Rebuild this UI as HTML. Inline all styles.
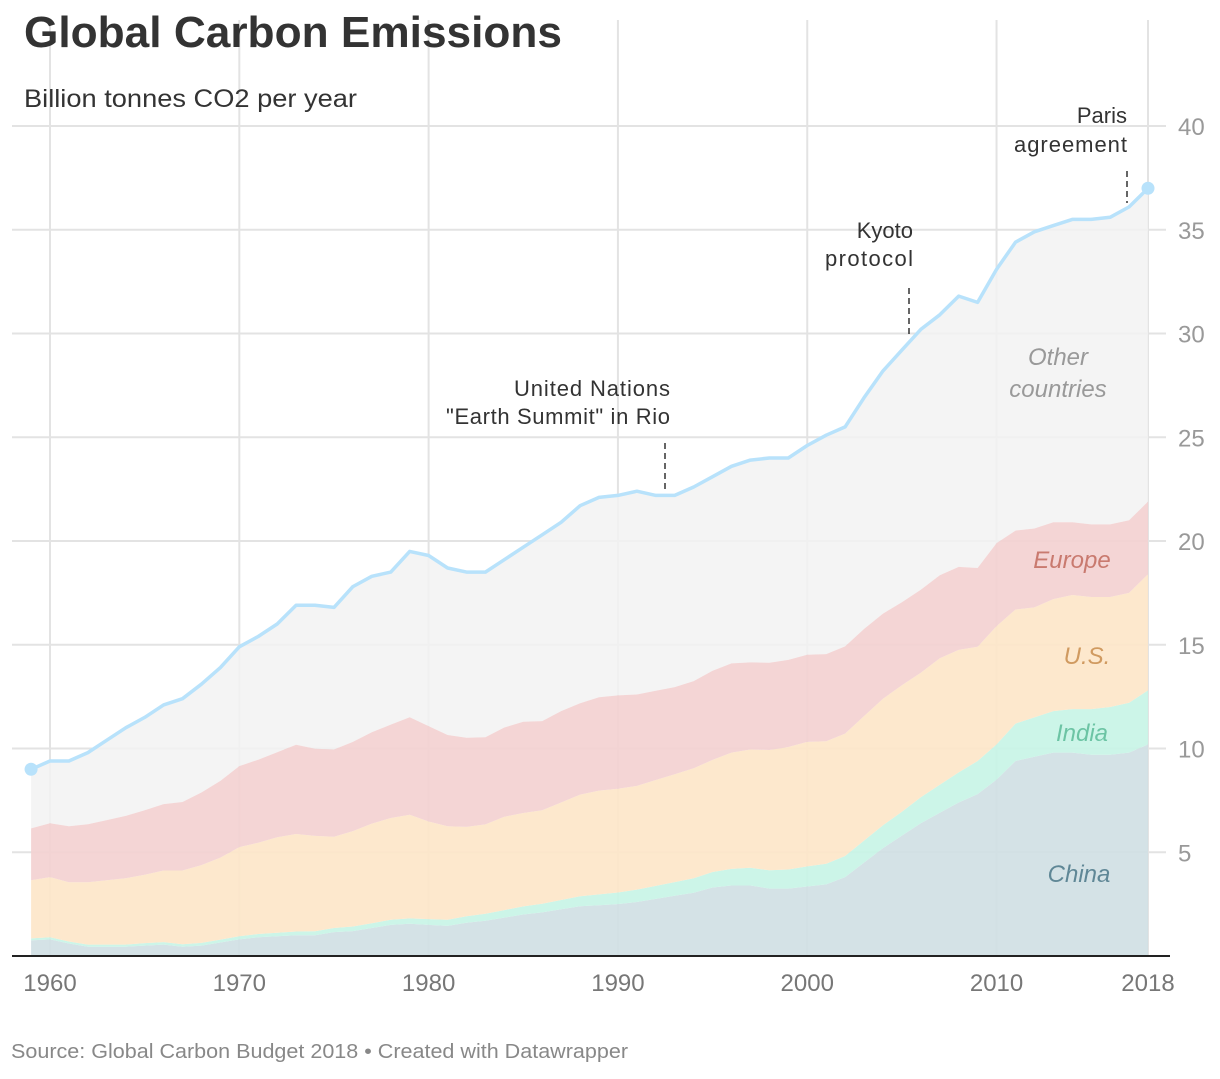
<!DOCTYPE html>
<html><head><meta charset="utf-8">
<style>
body{margin:0;background:#fff;width:1220px;height:1074px;overflow:hidden;font-family:"Liberation Sans",sans-serif;}
svg text{font-family:"Liberation Sans",sans-serif;}
</style></head>
<body>
<svg id="chart" width="1220" height="1074" viewBox="0 0 1220 1074">
  <g id="grid"></g>
  <g id="areas"></g>
  <g id="axes"></g>
  <text x="24" y="47" font-size="44" font-weight="bold" fill="#333" textLength="538" lengthAdjust="spacingAndGlyphs">Global Carbon Emissions</text>
  <text x="24" y="107" font-size="25" fill="#333" textLength="333" lengthAdjust="spacingAndGlyphs">Billion tonnes CO2 per year</text>
  <g id="labels">
    <text x="1058" y="365" font-size="24" font-style="italic" fill="#999" text-anchor="middle">Other</text>
    <text x="1058" y="397" font-size="24" font-style="italic" fill="#999" text-anchor="middle">countries</text>
    <text x="1072" y="568" font-size="24" font-style="italic" fill="#c97a6f" text-anchor="middle">Europe</text>
    <text x="1087" y="664" font-size="24" font-style="italic" fill="#d09a60" text-anchor="middle">U.S.</text>
    <text x="1082" y="741" font-size="24" font-style="italic" fill="#6cc4a4" text-anchor="middle">India</text>
    <text x="1079" y="882" font-size="24" font-style="italic" fill="#5f8796" text-anchor="middle">China</text>
  </g>
  <g id="annotations">
    <text font-size="22" fill="#333" text-anchor="end"><tspan x="670" y="396" textLength="156">United Nations</tspan><tspan x="670" y="424" textLength="224">"Earth Summit" in Rio</tspan></text>
    <line x1="665" y1="443" x2="665" y2="492" stroke="#333" stroke-width="1.5" stroke-dasharray="6,4"/>
    <text font-size="22" fill="#333" text-anchor="end"><tspan x="913" y="238">Kyoto</tspan><tspan x="913" y="266" textLength="88">protocol</tspan></text>
    <line x1="909" y1="288" x2="909" y2="338" stroke="#333" stroke-width="1.5" stroke-dasharray="6,4"/>
    <text font-size="22" fill="#333" text-anchor="end"><tspan x="1127" y="123">Paris</tspan><tspan x="1127" y="152" textLength="113">agreement</tspan></text>
    <line x1="1127" y1="171" x2="1127" y2="203" stroke="#333" stroke-width="1.5" stroke-dasharray="6,4"/>
  </g>
  <text x="11" y="1058" font-size="20" fill="#888" textLength="617" lengthAdjust="spacingAndGlyphs">Source: Global Carbon Budget 2018 • Created with Datawrapper</text>
</svg>
<script>
const startYear = 1959;
const china = [0.75, 0.8,0.6,0.45,0.45,0.45,0.5,0.55,0.45,0.5,0.65, 0.8,0.9,0.95,1.0,1.0,1.15,1.2,1.35,1.5,1.55, 1.5,1.45,1.6,1.7,1.85,2.0,2.1,2.25,2.4,2.45, 2.5,2.6,2.75,2.9,3.05,3.3,3.4,3.4,3.25,3.25, 3.35,3.45,3.8,4.5,5.2,5.8,6.4,6.9,7.4,7.8, 8.5,9.4,9.6,9.8,9.8,9.7,9.7,9.8,10.2];
const india = [0.1, 0.1,0.1,0.1,0.1,0.1,0.12,0.12,0.12,0.13,0.14, 0.15,0.16,0.17,0.18,0.19,0.2,0.22,0.23,0.25,0.26, 0.28,0.3,0.32,0.34,0.36,0.39,0.42,0.45,0.48,0.52, 0.56,0.6,0.63,0.66,0.7,0.75,0.8,0.85,0.88,0.92, 0.97,1.0,1.02,1.06,1.1,1.15,1.25,1.35,1.45,1.6, 1.7,1.8,1.9,2.0,2.1,2.2,2.3,2.4,2.6];
const us = [2.8, 2.9,2.85,3.0,3.1,3.2,3.3,3.45,3.55,3.75,3.95, 4.3,4.4,4.6,4.7,4.6,4.4,4.6,4.8,4.9,5.0, 4.7,4.5,4.3,4.3,4.5,4.5,4.5,4.7,4.9,5.0, 5.0,5.0,5.1,5.2,5.3,5.4,5.6,5.7,5.8,5.9, 6.0,5.9,5.9,6.0,6.1,6.1,6.0,6.1,5.9,5.5, 5.7,5.5,5.3,5.4,5.5,5.4,5.3,5.3,5.6];
const europe = [2.5, 2.6,2.7,2.8,2.9,3.0,3.1,3.2,3.3,3.5,3.7, 3.9,4.0,4.1,4.3,4.2,4.2,4.3,4.4,4.5,4.7, 4.6,4.4,4.3,4.2,4.3,4.4,4.3,4.4,4.4,4.5, 4.5,4.4,4.3,4.2,4.2,4.3,4.3,4.2,4.2,4.2, 4.2,4.2,4.2,4.2,4.1,4.0,4.0,4.0,4.0,3.8, 4.0,3.8,3.8,3.7,3.5,3.5,3.5,3.5,3.5];
const total = [9.0, 9.4,9.4,9.8,10.4,11.0,11.5,12.1,12.4,13.1,13.9, 14.9,15.4,16.0,16.9,16.9,16.8,17.8,18.3,18.5,19.5, 19.3,18.7,18.5,18.5,19.1,19.7,20.3,20.9,21.7,22.1, 22.2,22.4,22.2,22.2,22.6,23.1,23.6,23.9,24.0,24.0, 24.6,25.1,25.5,26.9,28.2,29.2,30.2,30.9,31.8,31.5, 33.1,34.4,34.9,35.2,35.5,35.5,35.6,36.1,37.0];
const yTicks = [5,10,15,20,25,30,35,40];
const xTicks = [1960,1970,1980,1990,2000,2010,2018];

const NS = "http://www.w3.org/2000/svg";
function xs(year){ return 50 + (year - 1960) * (1098/58); }
function ys(v){ return 956 - v * 20.75; }
function mk(tag, attrs, parent){ const e = document.createElementNS(NS, tag); for (const k in attrs) e.setAttribute(k, attrs[k]); parent.appendChild(e); return e; }

const grid = document.getElementById('grid');
const axes = document.getElementById('axes');
const areas = document.getElementById('areas');
xTicks.forEach(t => {
  const l = mk('line', {x1: xs(t), x2: xs(t), y1: 20, y2: 956, stroke: '#e3e3e3', 'stroke-width': 2}, grid);
  
  
  const tx = mk('text', {x: xs(t), y: 991, 'font-size': 24, fill: '#777', 'text-anchor': 'middle'}, axes);
  tx.textContent = t;
  
  
});
yTicks.forEach(t => {
  const l = mk('line', {x1: 12, x2: 1166, y1: ys(t), y2: ys(t), stroke: '#e3e3e3', 'stroke-width': 2}, grid);
  
  
  const tx = mk('text', {x: 1178, y: ys(t) + 9, 'font-size': 24, fill: '#999'}, axes);
  tx.textContent = t;
  
  
});

const n = total.length;
const layers = [china, india, us, europe];
const colors = ['#cfdfe3', '#c6f4e6', '#fde6c8', '#f3d0d0'];
const names = ['area-china', 'area-india', 'area-us', 'area-europe'];
let base = new Array(n).fill(0);
const tops = [];
layers.forEach((arr) => { const top = arr.map((v, i) => base[i] + v); tops.push({lo: base, hi: top}); base = top; });
const otherLo = base;
function areaPath(lo, hi){
  let d = '';
  for (let i = 0; i < n; i++) d += (i ? 'L' : 'M') + xs(startYear + i).toFixed(1) + ',' + ys(hi[i]).toFixed(1);
  for (let i = n - 1; i >= 0; i--) d += 'L' + xs(startYear + i).toFixed(1) + ',' + ys(lo[i]).toFixed(1);
  return d + 'Z';
}
const op = mk('path', {d: areaPath(otherLo, total), fill: '#f2f2f2', 'fill-opacity': 0.85}, areas);


tops.forEach((t, k) => {
  const p = mk('path', {d: areaPath(t.lo, t.hi), fill: colors[k], 'fill-opacity': 0.9}, areas);
  
  
});
let ld = '';
for (let i = 0; i < n; i++) ld += (i ? 'L' : 'M') + xs(startYear + i).toFixed(1) + ',' + ys(total[i]).toFixed(1);
const line = mk('path', {d: ld, fill: 'none', stroke: '#b8e2fb', 'stroke-width': 3.5, 'stroke-linejoin': 'round'}, areas);


[0, n - 1].forEach(i => {
  const c = mk('circle', {cx: xs(startYear + i), cy: ys(total[i]), r: 6.5, fill: '#b8e2fb'}, areas);
  
  
});
const bl = mk('line', {x1: 12, x2: 1170, y1: 956, y2: 956, stroke: '#222', 'stroke-width': 2}, axes);


</script>
</body></html>
